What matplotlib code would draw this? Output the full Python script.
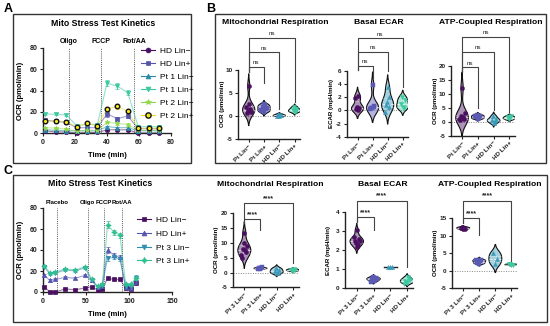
import numpy as np
import matplotlib
matplotlib.use("Agg")
import matplotlib.pyplot as plt
from matplotlib.patches import Rectangle
from matplotlib.lines import Line2D
import matplotlib.transforms as mtransforms

plt.rcParams['font.family'] = ['Liberation Sans', 'DejaVu Sans']
plt.rcParams['axes.unicode_minus'] = False

W, H = 550, 326

# ---------------- Panel A data ----------------
A_time = [1.5, 8, 14.5, 21, 27.5, 34, 40, 46.5, 53, 59.5, 66, 72.5]
A_inject = [16, 36, 57]
A_inject_labels = ['Oligo', 'FCCP', 'Rot/AA']
A_labels = ['HD Lin\u2212', 'HD Lin+', 'Pt 1 Lin\u2212', 'Pt 1 Lin+', 'Pt 2 Lin\u2212', 'Pt 2 Lin+']
A_hd_lm = [2, 1, 1, 0, 0.5, 0.5, 3, 3, 3, 0, 0, 0]
A_hd_lp = [12, 11, 10, 5, 5, 5, 18, 13.5, 16, 4, 4, 4]
A_p1_lm = [3, 2.5, 2, 2, 2, 2, 6, 5, 5, 2, 2, 2]
A_p1_lp = [18, 17.5, 17, 7, 8, 8, 47, 44, 38, 6, 6, 6]
A_p2_lm = [5, 4.5, 3.5, 2, 2.5, 2.5, 10, 9, 8, 2.5, 2.5, 2.5]
A_p2_lp = [11.5, 11, 10.5, 6, 9, 7, 22.5, 25, 20.5, 4.5, 4.5, 4.5]
A_err_hd_lm = [0.5, 0.5, 0.5, 0.5, 0.5, 0.5, 0.8, 0.8, 0.8, 0.5, 0.5, 0.5]
A_err_hd_lp = [1.5, 1, 1, 1, 1, 1, 2.5, 2, 2, 1, 1, 1]
A_err_p1_lm = [0.8, 0.8, 0.8, 0.8, 0.8, 0.8, 1, 1, 1, 0.8, 0.8, 0.8]
A_err_p1_lp = [1.2, 1, 1, 1, 1.5, 1.2, 3, 3, 2.5, 1, 1, 1]
A_err_p2_lm = [0.8, 0.8, 0.8, 0.8, 0.8, 0.8, 1, 1, 1, 0.8, 0.8, 0.8]
A_err_p2_lp = [1, 1, 1, 1, 1.5, 1, 2, 2, 1.5, 1, 1, 1]

# ---------------- Panel C kinetics data ----------------
C_time = [1.5, 8, 14.5, 26, 37.5, 49, 56.5, 63.5, 69, 75, 82.5, 89.5, 96, 102, 108]
C_inject = [16.5, 52, 71, 91.5]
C_inject_labels = ['Placebo', 'Oligo', 'FCCP', 'Rot/AA']
C_labels = ['HD Lin\u2212', 'HD Lin+', 'Pt 3 Lin\u2212', 'Pt 3 Lin+']
C_hd_lm = [5, 0, 0, 3, 2, 4, 5, 2, 3, 13, 12, 12, 4, 3, 9]
C_hd_lp = [16, 11, 12, 14, 13, 16, 11, 5, 6, 40, 35, 33, 5, 4, 10]
C_p3_lm = [23.5, 17.5, 18, 21, 20, 23, 11, 5, 6.5, 32, 33, 31.5, 5, 5, 13.5]
C_p3_lp = [24.5, 18.5, 19, 22, 21, 24, 12, 5.5, 7.5, 64, 57, 54, 8, 7.5, 13]
C_err_hd_lm = [0.8, 0.5, 0.5, 0.6, 0.6, 0.8, 0.8, 0.6, 0.6, 1, 1, 1, 0.8, 0.8, 1]
C_err_hd_lp = [1, 1, 1, 1, 1, 1, 1, 1, 1, 2.5, 2, 2, 1, 1, 1.5]
C_err_p3_lm = [1, 1, 1, 1, 1, 1, 1, 1, 1, 2, 2, 2, 1, 1, 2.5]
C_err_p3_lp = [1, 1, 1, 1, 1, 1, 1, 1, 1, 3.5, 2.5, 2.5, 1, 1, 2]

# ---------------- Violin data ----------------
B_cats = ['Pt Lin\u2212', 'Pt Lin+', 'HD Lin\u2212', 'HD Lin+']
C_cats = ['Pt 3 Lin\u2212', 'Pt 3 Lin+', 'HD Lin\u2212', 'HD Lin+']

B_mito = [[6.5, 0.5, 1.0, 1.2, 1.5, 2.0, 0.8, 2.5],
          [0.8, 1.0, 1.5, 2.0, 2.3, 1.2, 1.8, 2.5],
          [-0.1, 0.0, 0.2, 0.4, 0.1],
          [0.8, 1.2, 1.5, 1.9, 1.0]]
B_ecar = [[2.2, 0.2, 0.3, 0.5, 0.1, 1.8],
          [3.8, 0.3, 0.5, 0.4, 0.6, 0.2],
          [3.5, 0.8, 0.5, 1.2, 2.0, -0.2],
          [0.5, 1.0, 1.5, 2.0, 0.3]]
B_atp = [[12.0, 0.5, 1.0, 2.0, 1.5, 0.8, 3.0],
         [1.0, 1.5, 2.0, 2.5, 1.2, 2.0],
         [-0.5, 0.5, 1.0, 2.0, 0.2],
         [0.8, 1.5, 2.0, 1.2]]
C_mito = [[13.5, 5, 7, 8, 7.5, 6, 9, 10],
          [1.2, 1.5, 1.8, 1.4, 1.6, 1.3],
          [0.0, 0.5, 1.0, 1.5, -0.3],
          [0.5, 0.8, 1.0, 0.7, 1.2]]
C_ecar = [[3.05, 2.5, 2.6, 2.4, 2.3, 2.7, 2.5, 2.2],
          [0.4, 0.5, 0.55, 0.6, 0.45, 0.35, 0.5],
          [1.1, 1.1, 1.1],
          [0.3, 0.4, 0.5, 0.35, 0.6, 0.25, 0.45]]
C_atp = [[12.0, 12.3, 11.8, 12.5, 12.2],
         [2.0, 2.5, 3.0, 2.2, 2.8, 3.2],
         [2.0, 5.0, 3.5],
         [1.6, 1.8, 1.7, 1.9]]

# significance brackets: (target category, line height, target leg end)
B_mito_br = [(1, 10.7, 7.2), (2, 13.9, 1.5), (3, 17.0, 3.1)]
B_ecar_br = [(1, 6.8, 4.8), (2, 8.9, 6.0), (3, 11.0, 3.6)]
B_atp_br = [(1, 19.6, 4.8), (2, 25.0, 4.2), (3, 30.4, 3.6)]
C_mito_br = [(1, 18.1, 14.4), (3, 23.4, 3.1)]
C_ecar_br = [(1, 3.74, 3.07), (3, 4.61, 1.12)]
C_atp_br = [(1, 15.0, 10.2), (3, 20.0, 2.3)]

VCOL = ['#4a1060', '#5a5ab5', '#3a9ab8', '#3cc8a0']
VMARK = ['o', 's', '^', 'v']

fig = plt.figure(figsize=(5.5, 3.26), dpi=100)


def ax_px(l, t, r, b):
    return fig.add_axes([l / W, 1 - b / H, (r - l) / W, (b - t) / H])


def ftext(x, y, s, **kw):
    fig.text(x / W, 1 - y / H, s, **kw)


# panel boxes
for (l, t, r, b) in [(13, 14, 191, 163), (215, 14, 546, 163), (13, 175, 547, 322)]:
    fig.patches.append(Rectangle((l / W, 1 - b / H), (r - l) / W, (b - t) / H,
                                 transform=fig.transFigure, fill=False,
                                 ec='#333333', lw=1.0))

ftext(4, 9, 'A', fontsize=9, fontweight='bold', va='center')
ftext(206, 9, 'B', fontsize=9, fontweight='bold', va='center')
ftext(4, 171, 'C', fontsize=9, fontweight='bold', va='center')


def style_axes(ax, tick_fs):
    for s in ['top', 'right']:
        ax.spines[s].set_visible(False)
    for s in ['left', 'bottom']:
        ax.spines[s].set_linewidth(1.0)
        ax.spines[s].set_color('#222222')
    ax.tick_params(axis='both', length=2.5, width=0.8, pad=1.5, labelsize=tick_fs,
                   colors='#222222')
    for lab in ax.get_xticklabels() + ax.get_yticklabels():
        lab.set_fontweight('bold')


def kinetics(rect, times, series, xlim, xticks, injections, inj_labels, inj_fs,
             title_xy, legend_xy, xlabel_y, ylabel_x, legend_spacing):
    ax = ax_px(*rect)
    handles = []
    for name, vals, err, color, marker, mfc, mec, mew, ms in series:
        ax.plot(times, vals, color=color, alpha=0.55, lw=0.8, zorder=2, clip_on=False)
        ax.errorbar(times, vals, yerr=err, fmt='none', ecolor=color, elinewidth=0.6,
                    capsize=1.3, capthick=0.6, alpha=0.8, zorder=2, clip_on=False)
        ax.plot(times, vals, ls='none', marker=marker, ms=ms, mfc=mfc, mec=mec,
                mew=mew, zorder=3, clip_on=False)
        handles.append(Line2D([], [], color=color, lw=0.8, marker=marker, ms=ms + 0.5,
                              mfc=mfc, mec=mec, mew=mew))
    ax.set_xlim(*xlim)
    ax.set_ylim(0, 80)
    ax.set_xticks(xticks)
    ax.set_yticks([0, 20, 40, 60, 80])
    style_axes(ax, 5)
    trans = mtransforms.blended_transform_factory(ax.transData, ax.transAxes)
    for x, lab in zip(injections, inj_labels):
        ax.axvline(x, ymin=0, ymax=1.0, color='#555555', ls=(0, (1, 1.2)), lw=0.7, zorder=1)
        ax.text(x, 1.035, lab, transform=trans, ha='center', va='bottom',
                fontsize=inj_fs, fontweight='bold')
    ax.set_xlabel('Time (min)', fontsize=5.5, fontweight='bold', labelpad=2)
    ax.xaxis.set_label_coords(0.5, 1 - (xlabel_y - rect[1]) / (rect[3] - rect[1]))
    ax.set_ylabel('OCR (pmol/min)', fontsize=5.5, fontweight='bold')
    ax.yaxis.set_label_coords((ylabel_x - rect[0]) / (rect[2] - rect[0]), 0.5)
    ftext(title_xy[0], title_xy[1], 'Mito Stress Test Kinetics', fontsize=6.3,
          fontweight='bold', ha='center', va='center')
    fig.legend(handles, [s[0] for s in series], loc='upper left',
               bbox_to_anchor=(legend_xy[0] / W, 1 - legend_xy[1] / H),
               bbox_transform=fig.transFigure, frameon=False, fontsize=6,
               handlelength=1.7, handletextpad=0.6, labelspacing=legend_spacing,
               borderpad=0, borderaxespad=0)
    return ax


A_series = [
    (A_labels[0], A_hd_lm, A_err_hd_lm, '#4a1060', 'o', '#4a1060', '#4a1060', 0.5, 3),
    (A_labels[1], A_hd_lp, A_err_hd_lp, '#5555a8', 's', '#5555a8', '#5555a8', 0.5, 3),
    (A_labels[2], A_p1_lm, A_err_p1_lm, '#2a8aa5', '^', '#2a8aa5', '#2a8aa5', 0.5, 3),
    (A_labels[3], A_p1_lp, A_err_p1_lp, '#3cc8a0', 'v', '#3cc8a0', '#3cc8a0', 0.5, 3),
    (A_labels[4], A_p2_lm, A_err_p2_lm, '#8ed84a', '*', '#8ed84a', '#8ed84a', 0.5, 3.5),
    (A_labels[5], A_p2_lp, A_err_p2_lp, '#e8d820', 'o', '#f5e61a', '#111111', 1.0, 3.3),
]
kinetics((43, 48, 171, 133), A_time, A_series, (0, 80), [0, 20, 40, 60, 80],
         A_inject, A_inject_labels, 5, (103, 24), (141, 47), 152, 24, 0.62)

C_series = [
    (C_labels[0], C_hd_lm, C_err_hd_lm, '#4a1060', 's', '#4a1060', '#4a1060', 0.5, 3),
    (C_labels[1], C_hd_lp, C_err_hd_lp, '#5555b0', '^', '#5555b0', '#5555b0', 0.5, 3),
    (C_labels[2], C_p3_lm, C_err_p3_lm, '#2f8fb0', 'v', '#2f8fb0', '#2f8fb0', 0.5, 3),
    (C_labels[3], C_p3_lp, C_err_p3_lp, '#30c090', (4, 1, 0), '#30c090', '#30c090', 0.5, 4),
]
kinetics((43, 208, 172, 292), C_time, C_series, (0, 150), [0, 50, 100, 150],
         C_inject, C_inject_labels, 4.3, (100, 184), (137, 216), 311, 24, 0.72)


def violin(ax, pos, vals, color, marker):
    v = np.asarray(vals, float)
    q1, med, q3 = np.percentile(v, [25, 50, 75])
    sd = v.std(ddof=1)
    if sd == 0:
        ax.plot([pos - 0.4, pos + 0.4], [v[0], v[0]], color='#222222', lw=1.0, zorder=2)
    else:
        bw = 1.06 * sd * len(v) ** (-0.2) * 0.85
        grid = np.linspace(v.min() - 2.3 * bw, v.max() + 2.3 * bw, 300)
        dens = np.exp(-0.5 * ((grid[:, None] - v[None, :]) / bw) ** 2).sum(1)
        half = 0.4 * dens / dens.max()
        ax.fill_betweenx(grid, pos - half, pos + half, facecolor=color, alpha=0.45,
                         edgecolor='none', zorder=1)
        ax.fill_betweenx(grid, pos - half, pos + half, facecolor='none',
                         edgecolor='#111111', lw=0.8, zorder=2)
        for q, ls in [(q1, ':'), (med, '--'), (q3, ':')]:
            h = np.interp(q, grid, half)
            ax.plot([pos - h, pos + h], [q, q], color='white', alpha=0.7, lw=0.6,
                    ls=ls, zorder=2)
    offs = [0, -0.12, 0.12, -0.06, 0.06, -0.18, 0.18, 0.0]
    xs = [pos + offs[i % len(offs)] for i in range(len(v))]
    ax.scatter(xs, v, s=9, marker=marker, color=color, edgecolors=color,
               linewidths=0.3, zorder=3, clip_on=False)


def violin_panel(rect, ylim, yticks, groups, cats, ylabel, brackets, title, title_xy,
                 sig_text, sig_fs, zero_line=True):
    ax = ax_px(*rect)
    for i, vals in enumerate(groups):
        violin(ax, i, vals, VCOL[i], VMARK[i])
    ax.set_xlim(-0.7, 3.35)
    ax.set_ylim(*ylim)
    ax.set_yticks(yticks)
    ax.set_xticks(range(len(cats)))
    ax.set_xticklabels(cats, rotation=45, ha='right', rotation_mode='anchor')
    style_axes(ax, 4.6)
    ax.tick_params(axis='x', length=2, pad=1.5)
    ax.spines['left'].set_bounds(yticks[0], yticks[-1])
    if zero_line:
        ax.axhline(0, color='#888888', ls=(0, (1, 1.5)), lw=0.7, zorder=0)
    frac = ((yticks[0] + yticks[-1]) / 2 - ylim[0]) / (ylim[1] - ylim[0])
    ax.set_ylabel(ylabel, fontsize=4.4, fontweight='bold')
    ax.yaxis.set_label_coords(-0.21, frac)
    lowest = min(b[1] for b in brackets)
    span = ylim[1] - ylim[0]
    left_end = lowest - 0.045 * span
    for tgt, yline, yend in brackets:
        ax.plot([0, 0, tgt, tgt], [left_end, yline, yline, yend], color='#444444',
                lw=0.8, clip_on=False, zorder=2)
        ax.text(tgt / 2, yline + 0.012 * span, sig_text, ha='center', va='bottom',
                fontsize=sig_fs, fontweight='bold' if sig_text != 'ns' else 'normal',
                color='#222222')
    ftext(title_xy[0], title_xy[1], title, fontsize=6.1, fontweight='bold',
          ha='center', va='center')
    return ax


violin_panel((238, 30, 300, 138.7), (-5, 18.7), [-5, 0, 5, 10], B_mito, B_cats,
             'OCR (pmol/min)', B_mito_br, 'Mitochondrial Respiration', (275, 23), 'ns', 4.5)
violin_panel((347, 30, 408, 136.7), (-4, 12.2), [-4, -2, 0, 2, 4, 6], B_ecar, B_cats,
             'ECAR (mpH/min)', B_ecar_br, 'Basal ECAR', (379, 23), 'ns', 4.5)
violin_panel((451, 30, 515, 135.7), (-5, 32.75), [-5, 0, 5, 10, 15, 20], B_atp, B_cats,
             'OCR (pmol/min)', B_atp_br, 'ATP-Coupled Respiration', (491, 23), 'ns', 4.5)
violin_panel((233, 192, 298.5, 287.3), (-5, 27.2), [-5, 0, 5, 10, 15, 20], C_mito, C_cats,
             'OCR (pmol/min)', C_mito_br, 'Mitochondrial Respiration', (270, 184), '****', 5)
violin_panel((345, 192, 413, 288.3), (0, 5.07), [0, 1, 2, 3, 4], C_ecar, C_cats,
             'ECAR (mpH/min)', C_ecar_br, 'Basal ECAR', (383, 184), '****', 5,
             zero_line=False)
violin_panel((452, 192, 517, 288.3), (-5, 22.5), [-5, 0, 5, 10, 15], C_atp, C_cats,
             'OCR (pmol/min)', C_atp_br, 'ATP-Coupled Respiration', (490, 184), '****', 5)

fig.savefig('out.png', dpi=100)
